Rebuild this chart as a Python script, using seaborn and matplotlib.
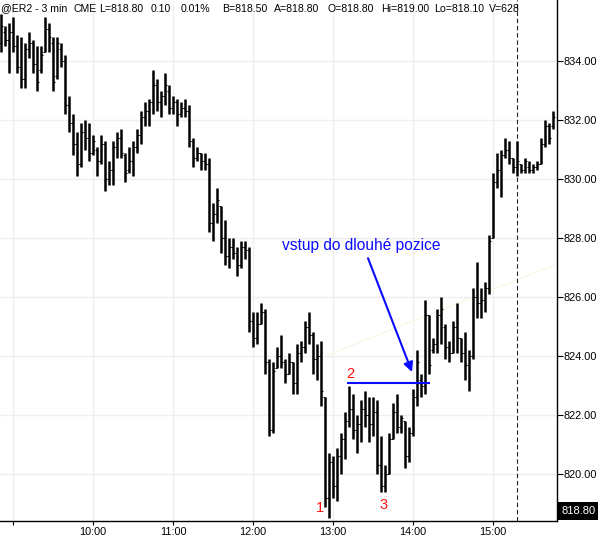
import numpy as np
import pandas as pd
import matplotlib
matplotlib.use("Agg")
import matplotlib.pyplot as plt
from matplotlib.patches import Rectangle
import seaborn as sns

# ---------------- data (3-min bars, @ER2) ----------------
bar_times = pd.date_range("2009-01-01 08:51", periods=139, freq="3min")

high = [835.6, 835.2, 835.3, 835.5, 834.9, 834.8, 834.6, 835.0, 834.7, 834.5,
        834.5, 835.5, 835.3, 834.8, 834.8, 834.6, 834.2, 832.8, 832.2, 831.6,
        831.9, 832.0, 831.9, 831.5, 831.1, 831.5, 831.3, 830.6, 831.3, 831.6,
        831.7, 830.9, 831.1, 831.3, 831.7, 832.3, 832.6, 832.7, 833.7, 833.4,
        833.0, 833.6, 833.2, 832.8, 832.7, 832.6, 832.7, 832.5, 831.4, 831.1,
        830.9, 830.9, 830.7, 829.2, 829.7, 829.1, 828.6, 828.0, 828.0, 827.7,
        827.9, 827.9, 827.7, 825.5, 825.5, 825.8, 825.6, 823.9, 823.8, 824.3,
        824.7, 823.9, 824.1, 823.8, 824.4, 824.5, 825.2, 825.5, 824.8, 824.4,
        824.5, 822.6, 820.7, 820.6, 820.9, 821.4, 822.1, 823.0, 822.7, 822.0,
        822.5, 822.8, 822.6, 822.6, 822.5, 821.3, 820.3, 821.4, 822.4, 822.7,
        822.0, 821.8, 821.6, 822.9, 824.2, 823.4, 825.9, 825.4, 824.6, 825.6,
        826.0, 825.1, 824.5, 825.2, 825.8, 824.6, 824.8, 824.2, 826.3, 827.2,
        826.3, 826.5, 828.1, 830.2, 830.9, 831.0, 831.4, 831.3, 830.7, 831.3,
        830.5, 830.7, 830.6, 830.5, 830.6, 831.4, 832.0, 831.9, 832.3]

low = [834.3, 834.5, 833.6, 834.3, 833.6, 833.1, 833.1, 834.1, 833.6, 833.0,
       833.6, 834.3, 834.3, 833.0, 833.4, 833.8, 832.2, 831.6, 830.8, 830.1,
       830.4, 831.0, 830.6, 830.8, 830.1, 830.5, 829.6, 829.8, 829.8, 830.7,
       830.7, 829.9, 830.2, 830.1, 830.9, 831.2, 831.8, 831.8, 832.2, 832.3,
       832.1, 832.5, 832.2, 832.2, 831.8, 832.1, 832.1, 831.1, 830.4, 830.6,
       830.3, 830.3, 828.2, 827.9, 828.5, 827.5, 827.1, 827.0, 827.3, 826.7,
       827.0, 827.3, 824.8, 824.3, 824.4, 825.1, 823.4, 821.3, 821.4, 823.6,
       823.6, 823.1, 823.4, 822.7, 822.7, 823.8, 824.1, 824.4, 823.4, 823.2,
       822.3, 818.9, 818.5, 819.2, 819.1, 820.0, 820.5, 821.6, 821.2, 820.7,
       821.1, 821.6, 821.1, 821.3, 820.0, 819.4, 819.4, 820.0, 821.2, 821.4,
       821.4, 820.2, 820.4, 821.3, 822.3, 822.6, 822.7, 823.4, 824.1, 824.1,
       824.4, 823.9, 823.8, 824.1, 824.1, 823.8, 823.2, 822.8, 823.9, 825.3,
       825.3, 825.5, 826.1, 828.0, 829.7, 829.4, 830.7, 830.5, 830.2, 830.1,
       830.2, 830.2, 830.2, 830.2, 830.3, 830.5, 831.1, 831.2, 831.7]

opens = [834.6, 835.0, 834.7, 835.0, 834.5, 833.8, 833.4, 834.4, 834.6, 833.9,
         833.7, 834.3, 835.1, 834.6, 833.5, 834.4, 834.0, 832.5, 831.9, 831.2,
         830.5, 831.6, 831.4, 830.9, 831.0, 830.6, 831.2, 830.0, 830.3, 831.1,
         831.4, 830.8, 830.3, 830.6, 831.1, 831.5, 832.1, 832.3, 832.6, 833.2,
         832.6, 832.8, 833.0, 832.4, 832.6, 832.2, 832.4, 832.3, 831.3, 830.7,
         830.9, 830.6, 830.5, 828.5, 828.8, 829.1, 828.0, 827.4, 827.7, 827.5,
         827.1, 827.7, 827.6, 825.2, 824.6, 825.1, 825.5, 823.8, 821.5, 823.6,
         824.0, 823.8, 823.4, 823.8, 823.1, 824.1, 824.3, 825.0, 824.7, 823.9,
         824.0, 822.6, 819.2, 820.4, 819.6, 820.6, 821.2, 821.8, 822.2, 821.5,
         821.7, 822.2, 822.0, 821.7, 822.1, 820.3, 819.6, 820.0, 821.2, 822.1,
         821.6, 821.8, 820.6, 821.4, 822.6, 823.2, 823.0, 825.4, 824.2, 824.4,
         825.4, 825.0, 824.3, 824.1, 825.0, 824.6, 824.1, 823.7, 824.0, 826.0,
         825.8, 825.9, 826.3, 828.0, 829.9, 830.3, 830.8, 831.0, 830.7, 830.4,
         830.5, 830.3, 830.4, 830.3, 830.4, 830.5, 831.2, 831.8, 831.8]

closes = [835.2, 834.7, 835.0, 834.5, 833.8, 833.4, 834.4, 834.6, 833.9, 833.3,
          834.2, 835.1, 834.8, 833.3, 834.6, 834.0, 832.5, 831.9, 831.2, 830.5,
          831.6, 831.4, 830.9, 831.3, 830.6, 831.2, 830.0, 830.3, 831.1, 831.4,
          830.9, 830.2, 830.6, 831.1, 831.5, 832.1, 832.3, 832.6, 833.2, 832.6,
          832.8, 833.2, 832.4, 832.6, 832.2, 832.4, 832.3, 831.3, 830.7, 830.9,
          830.6, 830.5, 828.5, 828.8, 829.3, 828.0, 827.4, 827.7, 827.5, 827.1,
          827.7, 827.6, 825.2, 824.6, 825.1, 825.5, 823.8, 821.5, 823.5, 824.0,
          823.8, 823.4, 823.8, 823.1, 824.1, 824.3, 825.0, 824.7, 823.9, 824.0,
          822.8, 819.2, 820.4, 819.6, 820.6, 821.2, 821.8, 822.2, 821.5, 821.7,
          822.2, 822.0, 821.7, 822.1, 820.3, 819.6, 820.0, 821.2, 822.1, 821.6,
          821.9, 820.6, 821.4, 822.6, 823.8, 823.0, 825.4, 823.7, 824.4, 825.4,
          825.6, 824.3, 824.1, 825.0, 824.6, 824.1, 823.7, 824.0, 826.0, 825.8,
          825.9, 826.3, 827.9, 829.9, 830.3, 830.8, 831.0, 830.7, 830.4, 830.6,
          830.3, 830.6, 830.3, 830.4, 830.5, 831.2, 831.8, 831.4, 832.1]

price_ticks = [820, 822, 824, 826, 828, 830, 832, 834]
hour_labels = ["", "10:00", "11:00", "12:00", "13:00", "14:00", "15:00"]
header_parts = ["@ER2 - 3 min", "CME", "L=818.80", "0.10", "0.01%", "B=818.50",
                "A=818.80", "O=818.80", "Hi=819.00", "Lo=818.10", "V=628"]
annotation_text = "vstup do dlouhé pozice"
entry_level = 823.1
last_price = "818.80"

# ---------------- figure ----------------
sns.set_style("white")
plt.rcParams["font.family"] = ["Liberation Sans", "DejaVu Sans"]
plt.rcParams["lines.solid_capstyle"] = "butt"

W, H = 598, 539
fig = plt.figure(figsize=(W / 100, H / 100), dpi=100)
ax_bottom_px = 521
ax_right_px = 557
ax = fig.add_axes([0, (H - ax_bottom_px) / H, ax_right_px / W, ax_bottom_px / H])

t0 = pd.Timestamp("2009-01-01 09:00")
minutes = np.asarray((bar_times - t0).total_seconds() / 60.0)
n = len(minutes)

df = pd.DataFrame({
    "t": np.repeat(minutes, 2),
    "price": np.ravel(np.column_stack([low, high])),
    "bar": np.repeat(np.arange(n), 2),
})

ax.grid(True, color="#efefef", lw=1.0, zorder=0)
ax.set_axisbelow(True)

# faint trend line
ax.plot([234, 406.5], [824.0, 827.1], color="#fbf6e6", lw=1.0, zorder=1)

sns.lineplot(data=df, x="t", y="price", units="bar", estimator=None,
             color="black", lw=1.8, ax=ax, legend=False, sort=False, zorder=3)
ax.hlines(opens, minutes - 1.6, minutes, color="black", lw=0.75, zorder=3)
ax.hlines(closes, minutes, minutes + 1.6, color="black", lw=0.75, zorder=3)

# dashed vertical marker
ax.axvline(378, color="#222222", lw=0.8, ls=(0, (4, 2.5)), zorder=2)

# axes ranges (px -> data)
ax.set_xlim(-9.75, 408)
ax.set_ylim(818.41, 836.07)

ax.yaxis.tick_right()
ax.set_yticks(price_ticks)
ax.set_yticklabels([f"{v:.2f}" for v in price_ticks])
ax.set_xticks([0, 60, 120, 180, 240, 300, 360])
ax.set_xticklabels(hour_labels)
ax.set_xlabel("")
ax.set_ylabel("")
ax.tick_params(axis="y", which="both", right=True, left=False, direction="out",
               length=4, width=0.8, colors="black", labelsize=7.9, pad=1)
ax.tick_params(axis="x", which="both", bottom=True, direction="out",
               length=3, width=0.8, colors="black", labelsize=7.8, pad=1.5)
for s in ["top", "left"]:
    ax.spines[s].set_visible(False)
for s in ["right", "bottom"]:
    ax.spines[s].set_visible(True)
    ax.spines[s].set_color("black")
    ax.spines[s].set_linewidth(1.0)

# annotations
blue = "#0a0aff"
ax.text(261, 827.76, annotation_text, color=blue, fontsize=11.2,
        ha="center", va="center", zorder=5)
ax.annotate("", xy=(299.25, 823.46), xytext=(266.25, 827.32),
            arrowprops=dict(arrowstyle="-|>", color=blue, lw=1.5,
                            mutation_scale=14, shrinkA=0, shrinkB=0), zorder=5)
ax.hlines(entry_level, 250.5, 312.75, color=blue, lw=1.5, zorder=4)
red = "#ff1010"
ax.text(230.25, 818.85, "1", color=red, fontsize=10.5, ha="center", va="center", zorder=5)
ax.text(252.75, 823.39, "2", color=red, fontsize=10.5, ha="center", va="center", zorder=5)
ax.text(278.25, 818.95, "3", color=red, fontsize=10.5, ha="center", va="center", zorder=5)

# header
header_x = [1, 74, 99, 151, 181, 222, 274, 328, 381, 434, 489]
for px, txt in zip(header_x, header_parts):
    fig.text(px / W, 1 - 8.5 / H, txt, fontsize=7.6, color="black",
             ha="left", va="center")

# last price box
fig.patches.append(Rectangle((ax_right_px / W, (H - 520) / H), (W - ax_right_px) / W, 18 / H,
                             transform=fig.transFigure, facecolor="black",
                             edgecolor="none", zorder=10))
fig.text((ax_right_px + 2 + (W - ax_right_px - 2) / 2) / W, (H - 511) / H, last_price,
         color="white", fontsize=8.0, ha="center", va="center", zorder=11)

fig.savefig("out.png", dpi=100)
